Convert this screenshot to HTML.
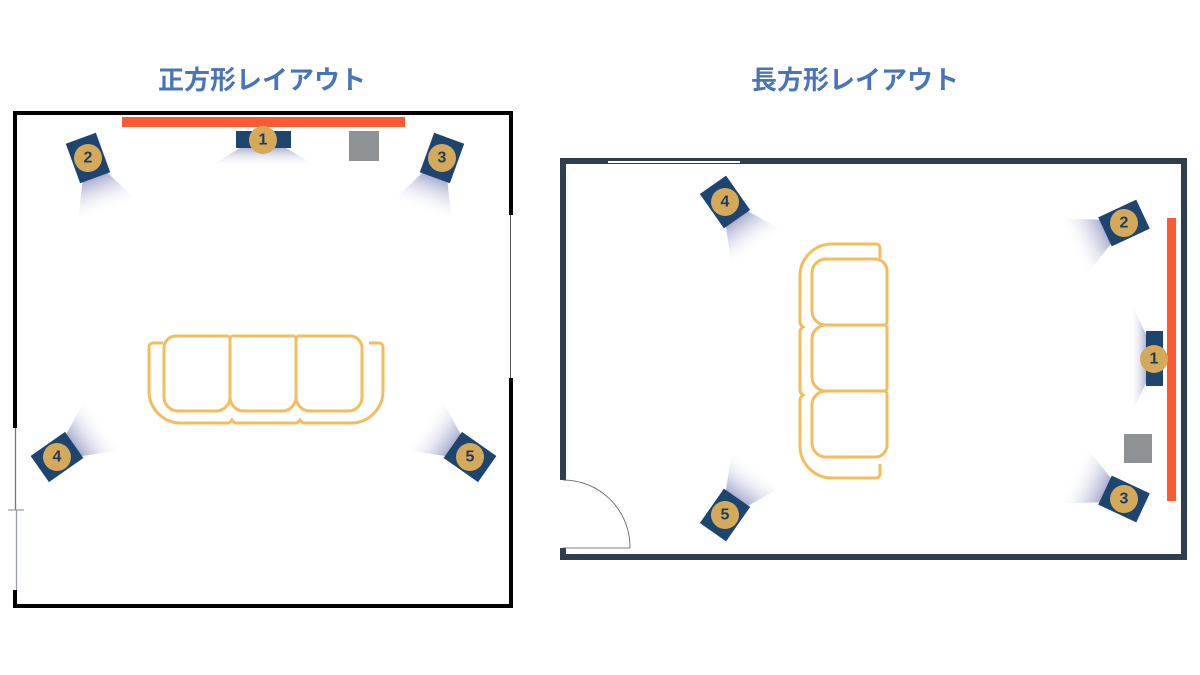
<!DOCTYPE html>
<html><head><meta charset="utf-8">
<style>
html,body{margin:0;padding:0;background:#fff;}
svg{display:block;}
text.t{font-family:"Liberation Sans","Noto Sans CJK JP",sans-serif;font-weight:bold;font-size:26px;fill:#4a74b8;}
text.n{font-family:"Liberation Sans",sans-serif;font-weight:bold;font-size:16px;fill:#1f3a5f;text-anchor:middle;dominant-baseline:central;}
</style></head>
<body>
<svg width="1200" height="675" viewBox="0 0 1200 675" xmlns="http://www.w3.org/2000/svg">
<defs>
<linearGradient id="bm" gradientUnits="userSpaceOnUse" x1="0" y1="18" x2="0" y2="58">
<stop offset="0" stop-color="#7d84b8" stop-opacity="0.75"/>
<stop offset="1" stop-color="#ffffff" stop-opacity="0"/>
</linearGradient>
<linearGradient id="bv" x1="0" y1="0" x2="0" y2="1">
<stop offset="0" stop-color="#7d84b8" stop-opacity="0.6"/>
<stop offset="1" stop-color="#ffffff" stop-opacity="0"/>
</linearGradient>
<linearGradient id="bh" x1="1" y1="0" x2="0" y2="0">
<stop offset="0" stop-color="#7d84b8" stop-opacity="0.6"/>
<stop offset="1" stop-color="#ffffff" stop-opacity="0"/>
</linearGradient>
<g id="spk">
<polygon points="-12,18 12,18 32,58 -32,58" fill="url(#bm)"/>
<rect x="-16" y="-21" width="32" height="42" fill="#1e4470"/>
<circle cx="0" cy="0" r="14" fill="#d4aa5a"/>
</g>
</defs>

<text class="t" x="262" y="89" text-anchor="middle">正方形レイアウト</text>
<text class="t" x="855" y="89" text-anchor="middle">長方形レイアウト</text>

<!-- LEFT ROOM -->
<rect x="15" y="113" width="496" height="493" fill="none" stroke="#000" stroke-width="4"/>
<rect x="13" y="428" width="6" height="162" fill="#fff"/>
<line x1="15.5" y1="428" x2="15.5" y2="510" stroke="#6b7585" stroke-width="1.3"/>
<line x1="16.5" y1="510" x2="16.5" y2="590" stroke="#9aa0aa" stroke-width="1.3"/>
<line x1="8" y1="510" x2="24" y2="510" stroke="#888" stroke-width="1"/>
<rect x="508" y="215" width="6" height="163" fill="#fff"/>
<line x1="510.5" y1="215" x2="510.5" y2="378" stroke="#555" stroke-width="1"/>

<rect x="122" y="117" width="283" height="10" fill="#fc5a33"/>
<polygon points="240,148 286,148 318,167 208,167" fill="url(#bv)"/>
<rect x="236" y="131" width="55" height="17" fill="#1e4470"/>
<circle cx="263" cy="140" r="14" fill="#d4aa5a"/>
<text class="n" x="263" y="140">1</text>
<rect x="349" y="131" width="30" height="30" fill="#8f9294"/>

<use href="#spk" transform="translate(88,158) rotate(-20)"/>
<text class="n" x="88" y="158">2</text>
<use href="#spk" transform="translate(442,158) rotate(20)"/>
<text class="n" x="442" y="158">3</text>
<use href="#spk" transform="translate(57,457) rotate(-125)"/>
<text class="n" x="57" y="457">4</text>
<use href="#spk" transform="translate(470,457) rotate(125)"/>
<text class="n" x="470" y="457">5</text>

<g fill="none" stroke="#f2bd5e" stroke-width="3">
<path d="M163,343 h-10 a4,4 0 0 0 -4,4 v44 a32,32 0 0 0 32,32 h46 q3,0 5,-3 q2,3 5,3 h58 q3,0 5,-3 q2,3 5,3 h46 a32,32 0 0 0 32,-32 v-44 a4,4 0 0 0 -4,-4 h-10"/>
<path d="M175,336 h52 a3,3 0 0 1 3,3 v58 a14,14 0 0 1 -14,14 h-38 a14,14 0 0 1 -14,-14 v-49 a12,12 0 0 1 11,-12z"/>
<path d="M233,336 h60 a3,3 0 0 1 3,3 v58 a14,14 0 0 1 -14,14 h-38 a14,14 0 0 1 -14,-14 v-58 a3,3 0 0 1 3,-3z"/>
<path d="M299,336 h52 a12,12 0 0 1 11,12 v49 a14,14 0 0 1 -14,14 h-38 a14,14 0 0 1 -14,-14 v-58 a3,3 0 0 1 3,-3z"/>
</g>

<!-- RIGHT ROOM -->
<rect x="563" y="161" width="621" height="396" fill="none" stroke="#2c3e50" stroke-width="6"/>
<line x1="608" y1="162" x2="740" y2="162" stroke="#fff" stroke-width="2"/>
<rect x="558" y="480" width="8" height="68" fill="#fff"/>
<path d="M563,480 A67,67 0 0 1 630,548" fill="none" stroke="#555" stroke-width="0.8"/>
<line x1="563" y1="548" x2="630" y2="548" stroke="#555" stroke-width="0.8"/>

<rect x="1167" y="218" width="9" height="283" fill="#fc5a33"/>
<polygon points="1146,334 1146,383 1130,416 1130,301" fill="url(#bh)"/>
<rect x="1146" y="331" width="17" height="55" fill="#1e4470"/>
<circle cx="1154" cy="359" r="14" fill="#d4aa5a"/>
<text class="n" x="1154" y="359">1</text>
<rect x="1124" y="434" width="28" height="29" fill="#8f9294"/>

<use href="#spk" transform="translate(1124,223) rotate(65)"/>
<text class="n" x="1124" y="223">2</text>
<use href="#spk" transform="translate(1124,499) rotate(115)"/>
<text class="n" x="1124" y="499">3</text>
<use href="#spk" transform="translate(725,202) rotate(-35)"/>
<text class="n" x="725" y="202">4</text>
<use href="#spk" transform="translate(725,515) rotate(-145)"/>
<text class="n" x="725" y="515">5</text>

<g fill="none" stroke="#f2bd5e" stroke-width="3">
<path d="M880,258 v-10 a4,4 0 0 0 -4,-4 h-44 a32,32 0 0 0 -32,32 v46 q0,3 3,5 q-3,2 -3,5 v58 q0,3 3,5 q-3,2 -3,5 v46 a32,32 0 0 0 32,32 h44 a4,4 0 0 0 4,-4 v-10"/>
<path d="M887,270 v52 a3,3 0 0 1 -3,3 h-58 a14,14 0 0 1 -14,-14 v-38 a14,14 0 0 1 14,-14 h49 a12,12 0 0 1 12,11z"/>
<path d="M887,328 v60 a3,3 0 0 1 -3,3 h-58 a14,14 0 0 1 -14,-14 v-38 a14,14 0 0 1 14,-14 h58 a3,3 0 0 1 3,3z"/>
<path d="M887,394 v52 a12,12 0 0 1 -12,11 h-49 a14,14 0 0 1 -14,-14 v-38 a14,14 0 0 1 14,-14 h58 a3,3 0 0 1 3,3z"/>
</g>
</svg>
</body></html>
